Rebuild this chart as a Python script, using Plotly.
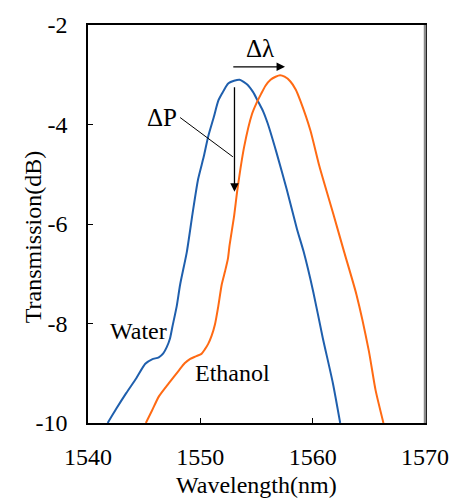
import plotly.graph_objects as go

water_x = [1541.75, 1542.5, 1543.4, 1544.3, 1545.1, 1545.7, 1546.3, 1546.7, 1547.0, 1547.3, 1547.5,
           1547.9, 1548.2, 1548.8, 1549.3, 1549.8, 1550.3, 1550.7, 1551.2, 1551.6, 1552.0, 1552.3,
           1552.5, 1553.0, 1553.5, 1554.2, 1554.7, 1555.1, 1555.6, 1556.0, 1556.4, 1556.8, 1557.7,
           1558.6, 1559.2, 1560.05, 1560.9, 1561.8, 1562.45]
water_y = [-10.0, -9.72, -9.4, -9.1, -8.81, -8.72, -8.68, -8.6, -8.48, -8.3, -8.08,
           -7.65, -7.22, -6.56, -5.8, -5.1, -4.65, -4.24, -3.85, -3.52, -3.35, -3.23,
           -3.17, -3.12, -3.1, -3.2, -3.35, -3.52, -3.74, -3.98, -4.27, -4.58, -5.31,
           -6.1, -6.56, -7.36, -8.29, -9.2, -10.0]

ethanol_x = [1545.15, 1545.7, 1546.3, 1547.2, 1548.1, 1548.6, 1549.1, 1549.6, 1550.1, 1550.4, 1550.7,
             1551.0, 1551.3, 1551.6, 1551.9, 1552.2, 1552.46, 1552.6, 1553.0, 1553.3, 1553.9, 1554.6,
             1555.0, 1555.4, 1555.8, 1556.25, 1556.7, 1557.1, 1557.5, 1558.0, 1558.5, 1558.9,
             1559.8, 1560.6, 1561.8, 1562.8, 1563.9, 1565.0, 1565.6, 1566.3]
ethanol_y = [-10.0, -9.75, -9.47, -9.2, -8.94, -8.8, -8.71, -8.66, -8.61, -8.52, -8.41,
             -8.25, -8.02, -7.65, -7.22, -6.95, -6.69, -6.43, -5.85, -5.31, -4.45, -3.79,
             -3.57, -3.39, -3.22, -3.1, -3.04, -3.01, -3.04, -3.13, -3.3, -3.52,
             -4.12, -4.84, -5.77, -6.56, -7.42, -8.55, -9.34, -10.0]

x_ticks = [1540, 1550, 1560, 1570]
x_tick_text = ["1540", "1550", "1560", "1570"]
y_ticks = [-10, -8, -6, -4, -2]
y_tick_text = ["-10", "-8", "-6", "-4", "-2"]

FONT = "Liberation Serif, Times New Roman, serif"

fig = go.Figure()
fig.add_trace(go.Scatter(x=water_x, y=water_y, mode="lines", name="Water",
                         line=dict(color="#1F5FAD", width=2, shape="spline", smoothing=0.6)))
fig.add_trace(go.Scatter(x=ethanol_x, y=ethanol_y, mode="lines", name="Ethanol",
                         line=dict(color="#FF6A13", width=2, shape="spline", smoothing=0.6)))

fig.update_layout(
    width=461, height=498,
    margin=dict(l=88, r=31, t=19.5, b=75),
    paper_bgcolor="white", plot_bgcolor="white",
    showlegend=False,
    font=dict(family=FONT, size=24, color="black"),
)
fig.update_xaxes(range=[1540, 1570], tickvals=x_ticks, ticktext=x_tick_text, ticks="inside", ticklen=5,
                 tickcolor="black", showline=True, linecolor="black", linewidth=1.5,
                 mirror=True, showgrid=False, zeroline=False, ticklabelstandoff=11,
                 tickfont=dict(family=FONT, size=24, color="black"))
fig.update_yaxes(range=[-10, -2], tickvals=y_ticks, ticktext=y_tick_text, ticks="inside", ticklen=5,
                 tickcolor="black", showline=True, linecolor="black", linewidth=1.5,
                 mirror=True, showgrid=False, zeroline=False, ticklabelstandoff=14,
                 tickfont=dict(family=FONT, size=24, color="black"))

# right border in gray
fig.add_shape(type="line", xref="paper", yref="paper", x0=1, x1=1, y0=0, y1=1,
              line=dict(color="#8a8a8a", width=2.5))

# axis titles
fig.add_annotation(text="Wavelength(nm)", xref="paper", yref="paper", x=0.5, y=-0.156,
                   xanchor="center", yanchor="middle", showarrow=False,
                   font=dict(family=FONT, size=24))
fig.add_annotation(text="Transmission(dB)", xref="paper", yref="paper", x=-0.164, y=0.466,
                   xanchor="center", yanchor="middle", textangle=-90, showarrow=False,
                   font=dict(family=FONT, size=24))

# labels
fig.add_annotation(text="Water", x=1544.47, y=-8.16, showarrow=False,
                   font=dict(family=FONT, size=24))
fig.add_annotation(text="Ethanol", x=1552.9, y=-8.99, showarrow=False,
                   font=dict(family=FONT, size=24))
fig.add_annotation(text="Δλ", x=1555.35, y=-2.47, showarrow=False,
                   font=dict(family=FONT, size=25))
fig.add_annotation(text="ΔP", x=1546.58, y=-3.85, showarrow=False,
                   font=dict(family=FONT, size=25))

# arrows
fig.add_annotation(x=1557.54, y=-2.84, ax=1552.8, ay=-2.84, axref="x", ayref="y",
                   text="", showarrow=True, arrowhead=2, arrowsize=1.3, arrowwidth=1.3,
                   arrowcolor="black")
fig.add_annotation(x=1553.04, y=-5.35, ax=1553.04, ay=-3.22, axref="x", ayref="y",
                   text="", showarrow=True, arrowhead=2, arrowsize=1.3, arrowwidth=1.3,
                   arrowcolor="black")
fig.add_shape(type="line", x0=1548.2, y0=-3.86, x1=1552.9, y1=-4.65,
              line=dict(color="black", width=1))

fig.write_html("out.html")
